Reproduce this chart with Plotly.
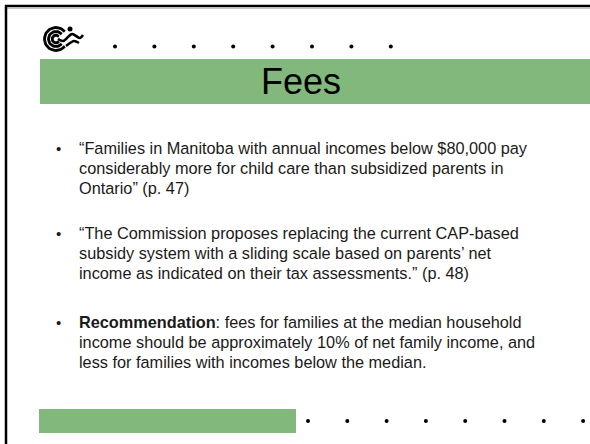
import numpy as np
import plotly.graph_objects as go

# slide content
title = "Fees"
bullets = [
    ["“Families in Manitoba with annual incomes below $80,000 pay",
     "considerably more for child care than subsidized parents in",
     "Ontario” (p. 47)"],
    ["“The Commission proposes replacing the current CAP-based",
     "subsidy system with a sliding scale based on parents’ net",
     "income as indicated on their tax assessments.” (p. 48)"],
    ["<b>Recommendation</b>: fees for families at the median household",
     "income should be approximately 10% of net family income, and",
     "less for families with incomes below the median."],
]
bullet_tops = [148, 233, 322]   # centre of first line of each bullet
line_gap = 20

top_dots_x = 115 + 39.4 * np.arange(8)
bottom_dots_x = 308 + 39.3 * np.arange(8)

GREEN = "#82B87C"
FONT = "Liberation Sans, Arial, sans-serif"

fig = go.Figure()

# frame
fig.add_shape(type="line", x0=5, y0=6, x1=590, y1=6, line=dict(color="black", width=2.5))
fig.add_shape(type="line", x0=5, y0=8.5, x1=590, y1=8.5, line=dict(color="#c8c8c8", width=1))
fig.add_shape(type="line", x0=6, y0=5, x1=6, y1=444, line=dict(color="black", width=2.5))

# green bars
fig.add_shape(type="rect", x0=40, y0=59, x1=591, y1=104, fillcolor=GREEN, line=dict(width=0))
fig.add_shape(type="rect", x0=39, y0=409, x1=296, y1=433, fillcolor=GREEN, line=dict(width=0))

# dotted rows
fig.add_trace(go.Scatter(x=top_dots_x, y=[46.5] * len(top_dots_x), mode="markers",
                         marker=dict(color="black", size=4), hoverinfo="skip"))
fig.add_trace(go.Scatter(x=bottom_dots_x, y=[421] * len(bottom_dots_x), mode="markers",
                         marker=dict(color="black", size=4), hoverinfo="skip"))

# logo: concentric "C" arcs, head and swoosh
cx, cy = 56, 39
for r in [11.5, 7.5, 3.8]:
    t = np.linspace(np.radians(40), np.radians(320), 40)
    xs = cx + r * np.cos(t)
    ys = cy - r * np.sin(t)
    fig.add_trace(go.Scatter(x=xs, y=ys, mode="lines", line=dict(color="black", width=2.8),
                             hoverinfo="skip"))
fig.add_shape(type="circle", x0=67.5, y0=26.5, x1=72.5, y1=31.5, fillcolor="black", line=dict(width=0))
fig.add_trace(go.Scatter(x=[58, 63, 68, 72, 76, 80, 83], y=[39, 41, 37, 34, 36, 38, 35],
                         mode="lines", line=dict(color="black", width=2.6, shape="spline"),
                         hoverinfo="skip"))
fig.add_trace(go.Scatter(x=[66, 70, 74, 79], y=[46, 43, 41, 43],
                         mode="lines", line=dict(color="black", width=2.4, shape="spline"),
                         hoverinfo="skip"))

# title
fig.add_annotation(x=301, y=81, text=title, showarrow=False, xanchor="center", yanchor="middle",
                   font=dict(family=FONT, size=36, color="black"))

# bullets
for top, lines in zip(bullet_tops, bullets):
    fig.add_annotation(x=58, y=top, text="•", showarrow=False, xanchor="center", yanchor="middle",
                       font=dict(family=FONT, size=15, color="#1a1a1a"))
    for i, ln in enumerate(lines):
        fig.add_annotation(x=77, y=top + i * line_gap, text=ln, showarrow=False,
                           xanchor="left", yanchor="middle",
                           font=dict(family=FONT, size=16.3, color="#1a1a1a"))

fig.update_layout(
    width=590, height=444,
    margin=dict(l=0, r=0, t=0, b=0),
    xaxis=dict(range=[0, 590], visible=False, fixedrange=True),
    yaxis=dict(range=[444, 0], visible=False, fixedrange=True),
    showlegend=False,
    plot_bgcolor="white", paper_bgcolor="white",
)

fig.write_html("out.html", config={"displayModeBar": False},
               post_script="document.body.style.margin='0';")
